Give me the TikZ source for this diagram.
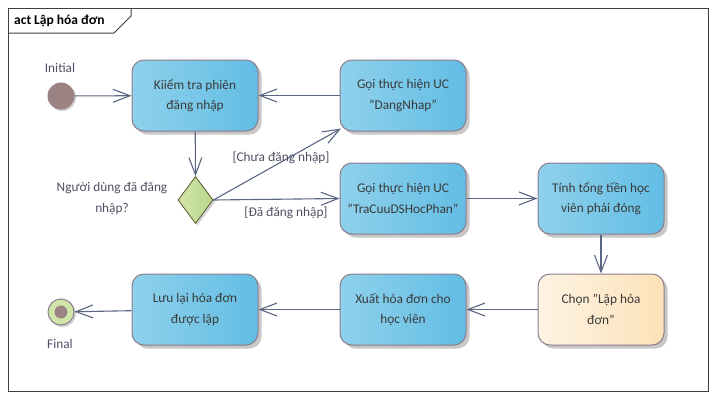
\documentclass[tikz,border=0pt]{standalone}
\usepackage{fontspec}
\setmainfont{Carlito}
\usetikzlibrary{arrows.meta,shadows,shapes.geometric,calc}
\definecolor{txt}{HTML}{3A3A3A}
\definecolor{lbl}{HTML}{505064}
\definecolor{edge}{HTML}{5B6685}
\definecolor{bord}{HTML}{8C7C8C}
\definecolor{blueL}{HTML}{8FD1EC}
\definecolor{blueR}{HTML}{62BDE4}
\definecolor{creamL}{HTML}{FDF4E3}
\definecolor{creamR}{HTML}{FCE1B8}
\definecolor{greenL}{HTML}{D0E5A8}
\definecolor{greenR}{HTML}{BAD78A}
\definecolor{initc}{HTML}{9C8383}
\tikzset{
  act/.style={rectangle, rounded corners=12pt, draw=bord, line width=1pt,
    minimum width=126pt, minimum height=71pt, align=center, text=txt,
    font=\fontsize{13.3pt}{20.5pt}\selectfont,
    left color=blueL, right color=blueR,
    drop shadow={shadow xshift=3.5pt, shadow yshift=-3.5pt, fill=black!22, opacity=1}},
  actcream/.style={act, left color=creamL, right color=creamR},
  flow/.style={draw=edge, line width=1.1pt, -{Straight Barb[length=17pt,width=13pt,line width=1.1pt]}},
  lab/.style={text=lbl, font=\fontsize{13.3pt}{20.5pt}\selectfont, align=center, inner sep=0pt},
}
\begin{document}
\begin{tikzpicture}[x=1pt,y=-1pt]
\useasboundingbox (0,0) rectangle (716,400);
\fill[white] (0,0) rectangle (716,400);
% frame
\draw[draw=black!75, line width=1pt] (8,8) rectangle (708,391);
\draw[draw=black!75, line width=1pt] (8,33) -- (114,33) -- (131,16) -- (131,8);
\node[anchor=west, text=black, font=\bfseries\fontsize{13.5pt}{14pt}\selectfont, inner sep=0pt] (title) at (14,21) {act Lập hóa đơn};

% initial
\fill[black!18] (62.5,97.5) circle (13.5);
\node[circle, fill=initc, minimum size=27pt, inner sep=0pt] (init) at (61,96) {};
\node[lab] (initl) at (60,68) {Initial};

% final
\fill[black!18] (62.5,313.5) circle (13.5);
\node[circle, fill=greenL, draw=bord, line width=1pt, minimum size=26pt, inner sep=0pt] (fin) at (61,312) {};
\node[circle, fill=initc, minimum size=13pt, inner sep=0pt] (fini) at (61,312) {};
\node[lab] (finl) at (60,344) {Final};

% activities
\node[act] (k) at (195,95.5) {Kiiểm tra phiên\\đăng nhập};
\node[act] (dn) at (403,95.5) {Gọi thực hiện UC\\"DangNhap"};
\node[act] (tc) at (403,198.5) {Gọi thực hiện UC\\"TraCuuDSHocPhan"};
\node[act] (tt) at (601,198.5) {Tính tổng tiền học\\viên phải đóng};
\node[actcream] (ch) at (601,309.5) {Chọn "Lập hóa\\đơn"};
\node[act] (xu) at (403,309.5) {Xuất hóa đơn cho\\học viên};
\node[act] (lu) at (195,309.5) {Lưu lại hóa đơn\\được lập};

% decision
\node[diamond, draw=black!45!olive, line width=0.8pt, left color=greenL, right color=greenR,
  minimum width=35pt, minimum height=47pt, inner sep=0pt,
  drop shadow={shadow xshift=2pt, shadow yshift=-2pt, fill=black!18, opacity=1}] (d) at (195.5,200) {};
\node[lab] (dl) at (112,198.5) {Người dùng đã đăng\\nhập?};

% flows
\draw[flow] (init) -- (k);
\draw[flow] (dn) -- (k);
\draw[flow] (k) -- (d.north);
\draw[flow] (d.east) -- ($(dn.south west)+(1.5,-3)$);
\draw[flow] (d.east) -- (tc.west);
\draw[flow] (tc) -- (tt);
\draw[flow] (tt) -- (ch);
\draw[flow] (ch) -- (xu);
\draw[flow] (xu) -- (lu);
\draw[flow] (lu) -- (fin);

\node[lab] (l1) at (281,158) {[Chưa đăng nhập]};
\node[lab] (l2) at (286,213) {[Đã đăng nhập]};
\end{tikzpicture}
\end{document}
